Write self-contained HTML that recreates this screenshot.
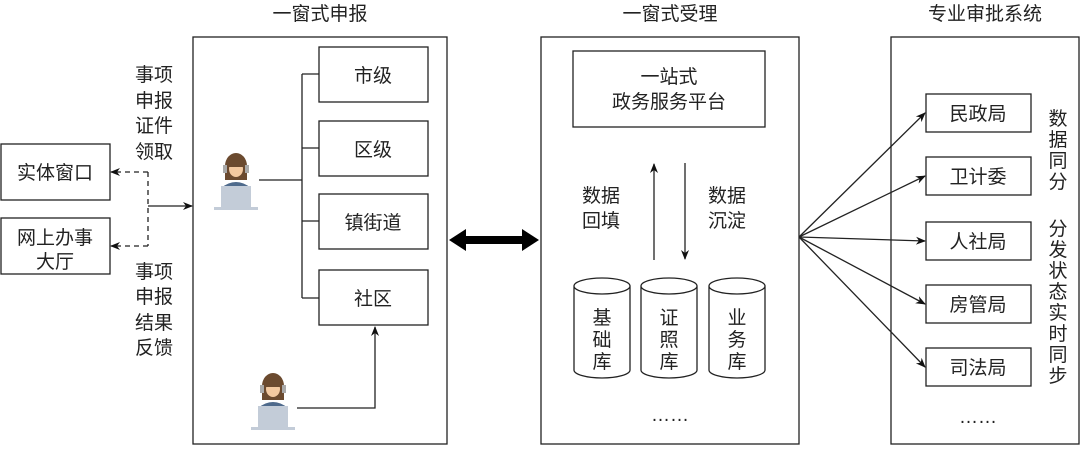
<!DOCTYPE html>
<html><head><meta charset="utf-8"><style>
html,body{margin:0;padding:0;background:#fff;}
svg text{font-family:"Liberation Sans","Noto Sans CJK SC",sans-serif;fill:#222;}
</style></head><body>
<svg width="1080" height="446" viewBox="0 0 1080 446" xmlns="http://www.w3.org/2000/svg">
<defs>
<marker id="a" markerWidth="10" markerHeight="10" refX="9" refY="5" orient="auto" markerUnits="userSpaceOnUse"><path d="M0,1 L10,5 L0,9 L3,5 Z" fill="#111"/></marker>
<g id="person">
<ellipse cx="22" cy="16" rx="11" ry="13" fill="#6b4a2f"/>
<rect x="11" y="16" width="22" height="14" fill="#6b4a2f"/>
<ellipse cx="22" cy="19" rx="7" ry="8" fill="#f3c9a0"/>
<path d="M13,17 q9,-14 18,0" fill="#6b4a2f"/>
<rect x="9" y="15" width="4" height="8" fill="#aaa"/><rect x="31" y="15" width="4" height="8" fill="#aaa"/>
<path d="M7,38 q15,-12 30,0 z" fill="#4e6a8c"/>
<rect x="7" y="36" width="30" height="21" fill="#c3ccd8"/>
<rect x="0" y="57" width="44" height="3" fill="#c3ccd8"/>
</g>
</defs>
<g fill="none" stroke="#222" stroke-width="1.3">
<rect x="193" y="37" width="254" height="407"/>
<rect x="541" y="37" width="258" height="407"/>
<rect x="891" y="37" width="188" height="407"/>
<rect x="1" y="144" width="109" height="56"/>
<rect x="1" y="218" width="109" height="56"/>
<path d="M148,172 V246" stroke-dasharray="5,4"/>
<path d="M148,172 H111" stroke-dasharray="5,4" marker-end="url(#a)"/>
<path d="M148,246 H111" stroke-dasharray="5,4" marker-end="url(#a)"/>
<path d="M148,206 H192" marker-end="url(#a)"/>
<rect x="319" y="47" width="109" height="55"/>
<rect x="319" y="121" width="109" height="55"/>
<rect x="319" y="194" width="109" height="55"/>
<rect x="319" y="270" width="109" height="55"/>
<path d="M302,74 V298 M302,74 H319 M302,148 H319 M302,221 H319 M302,298 H319 M259,180 H302"/>
<path d="M297,408 H375 V327" marker-end="url(#a)"/>
<rect x="573" y="51" width="192" height="76"/>
<path d="M654,260 V164" marker-end="url(#a)"/>
<path d="M685,163 V259" marker-end="url(#a)"/>
<path d="M574,286 V370 A28,8 0 0 0 630,370 V286 A28,8 0 0 0 574,286 A28,8 0 0 0 630,286"/>
<path d="M641,286 V370 A28,8 0 0 0 697,370 V286 A28,8 0 0 0 641,286 A28,8 0 0 0 697,286"/>
<path d="M709,286 V370 A28,8 0 0 0 765,370 V286 A28,8 0 0 0 709,286 A28,8 0 0 0 765,286"/>
<rect x="926" y="94" width="105" height="38"/>
<rect x="926" y="157" width="105" height="38"/>
<rect x="926" y="222" width="105" height="38"/>
<rect x="926" y="285" width="105" height="38"/>
<rect x="926" y="348" width="105" height="38"/>
<path d="M799,237 L925,113" marker-end="url(#a)"/>
<path d="M799,237 L925,176" marker-end="url(#a)"/>
<path d="M799,237 L925,241" marker-end="url(#a)"/>
<path d="M799,237 L925,304" marker-end="url(#a)"/>
<path d="M799,237 L925,367" marker-end="url(#a)"/>
</g>
<path d="M449,240 L466,229 L466,236 L522,236 L522,229 L539,240 L522,251 L522,244 L466,244 L466,251 Z" fill="#000"/>
<use href="#person" x="214" y="150"/>
<use href="#person" x="251" y="370"/>
<g font-size="19" text-anchor="middle">
<text x="320" y="20">一窗式申报</text>
<text x="670" y="20">一窗式受理</text>
<text x="985" y="20">专业审批系统</text>
</g>
<g font-size="19" text-anchor="middle">
<text x="55" y="179">实体窗口</text>
<text x="55" y="244">网上办事</text>
<text x="55" y="268">大厅</text>
<text x="373" y="82">市级</text>
<text x="373" y="156">区级</text>
<text x="373" y="229">镇街道</text>
<text x="373" y="305">社区</text>
<text x="669" y="83">一站式</text>
<text x="669" y="108">政务服务平台</text>
<text x="978" y="120">民政局</text>
<text x="978" y="183">卫计委</text>
<text x="978" y="248">人社局</text>
<text x="978" y="311">房管局</text>
<text x="978" y="374">司法局</text>
</g>
<g font-size="19" text-anchor="middle">
<text x="154" y="81">事项</text><text x="154" y="107">申报</text><text x="154" y="132">证件</text><text x="154" y="158">领取</text>
<text x="154" y="278">事项</text><text x="154" y="303">申报</text><text x="154" y="329">结果</text><text x="154" y="354">反馈</text>
<text x="601" y="202">数据</text><text x="601" y="227">回填</text>
<text x="727" y="202">数据</text><text x="727" y="227">沉淀</text>
<text x="602" y="324">基</text><text x="602" y="346">础</text><text x="602" y="368">库</text>
<text x="669" y="324">证</text><text x="669" y="346">照</text><text x="669" y="368">库</text>
<text x="737" y="324">业</text><text x="737" y="346">务</text><text x="737" y="368">库</text>
<text x="1058" y="125">数</text><text x="1058" y="146">据</text><text x="1058" y="167">同</text><text x="1058" y="188">分</text>
<text x="1058" y="235">分</text><text x="1058" y="256">发</text><text x="1058" y="277">状</text><text x="1058" y="298">态</text>
<text x="1058" y="319">实</text><text x="1058" y="340">时</text><text x="1058" y="361">同</text><text x="1058" y="382">步</text>
<text x="670" y="421">……</text>
<text x="978" y="423">……</text>
</g>
</svg>
</body></html>
